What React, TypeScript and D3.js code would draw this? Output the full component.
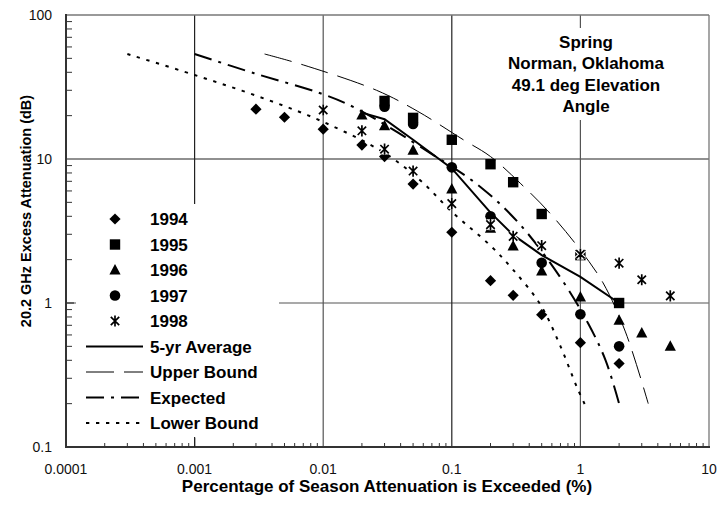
import React from 'react';
import * as d3 from 'd3';

// percent of season exceeded (x) and excess attenuation in dB (y)
const pct1994 = [0.003, 0.005, 0.01, 0.02, 0.03, 0.05, 0.1, 0.2, 0.3, 0.5, 1, 2];
const att1994 = [22.2, 19.5, 16.1, 12.5, 10.4, 6.7, 3.1, 1.43, 1.13, 0.83, 0.53, 0.38];
const pct1995 = [0.03, 0.05, 0.1, 0.2, 0.3, 0.5, 1, 2];
const att1995 = [25.3, 19.3, 13.6, 9.2, 6.9, 4.15, 2.15, 1.0];
const pct1996 = [0.02, 0.03, 0.05, 0.1, 0.2, 0.3, 0.5, 1, 2, 3, 5];
const att1996 = [20.2, 17.0, 11.5, 6.2, 3.3, 2.49, 1.67, 1.1, 0.76, 0.62, 0.5];
const pct1997 = [0.03, 0.05, 0.1, 0.2, 0.5, 1, 2];
const att1997 = [23.1, 17.5, 8.75, 4.0, 1.9, 0.835, 0.5];
const pct1998 = [0.01, 0.02, 0.03, 0.05, 0.1, 0.2, 0.3, 0.5, 1, 2, 3, 5];
const att1998 = [21.9, 15.7, 11.7, 8.25, 4.9, 3.5, 2.9, 2.5, 2.18, 1.89, 1.45, 1.12];

const pctAvg = [0.02, 0.03, 0.05, 0.1, 0.2, 0.3, 0.5, 1, 2];
const attAvg = [21, 18.9, 13.6, 8.6, 4.24, 2.97, 2.15, 1.52, 1.0];
const pctUpper = [0.0035, 0.007, 0.026, 0.054, 0.123, 0.2, 0.34, 0.58, 1, 1.5, 2.24, 3.37];
const attUpper = [53.6, 45, 30, 21.5, 13.6, 10.4, 6.8, 4.2, 2.33, 1.38, 0.63, 0.2];
const pctExp = [0.001, 0.0029, 0.0095, 0.018, 0.068, 0.167, 0.34, 0.7, 1.15, 1.57, 2];
const attExp = [53.6, 39.4, 28.6, 22.5, 11, 6.4, 3.5, 1.5, 0.72, 0.4, 0.2];
const pctLower = [0.0003, 0.001, 0.0032, 0.01, 0.03, 0.057, 0.1, 0.2, 0.3, 0.49, 0.7, 0.94, 1.09];
const attLower = [53.6, 38.3, 27, 18.1, 11, 7.1, 4.3, 2.5, 1.7, 0.97, 0.5, 0.26, 0.195];

const xTickLabels = ['0.0001', '0.001', '0.01', '0.1', '1', '10'];
const yTickLabels = ['0.1', '1', '10', '100'];
const titleLines = ['Spring', 'Norman, Oklahoma', '49.1 deg Elevation', 'Angle'];

type Kind = 'diamond' | 'square' | 'triangle' | 'circle' | 'star';

const years = [
  { name: '1994', kind: 'diamond' as Kind, pct: pct1994, att: att1994 },
  { name: '1995', kind: 'square' as Kind, pct: pct1995, att: att1995 },
  { name: '1996', kind: 'triangle' as Kind, pct: pct1996, att: att1996 },
  { name: '1997', kind: 'circle' as Kind, pct: pct1997, att: att1997 },
  { name: '1998', kind: 'star' as Kind, pct: pct1998, att: att1998 },
];

const curves = [
  { name: '5-yr Average', pct: pctAvg, att: attAvg, width: 2, dash: undefined, smooth: false },
  { name: 'Upper Bound', pct: pctUpper, att: attUpper, width: 1, dash: '28,10', smooth: true },
  { name: 'Expected', pct: pctExp, att: attExp, width: 2, dash: '18,7,3,7', smooth: true },
  { name: 'Lower Bound', pct: pctLower, att: attLower, width: 2, dash: '3.3,6.7', smooth: true },
];

const W = 719;
const H = 508;
const left = 66, right = 709, top = 15, bottom = 447;
const font = '"Liberation Sans", Arial, Helvetica, sans-serif';

const x = d3.scaleLog().domain([1e-4, 10]).range([left, right]);
const y = d3.scaleLog().domain([0.1, 100]).range([bottom, top]);

const Marker = ({ kind, cx, cy }: { kind: Kind; cx: number; cy: number }) => {
  if (kind === 'diamond') {
    const r = 5.6;
    return <path d={`M${cx},${cy - r}L${cx + r},${cy}L${cx},${cy + r}L${cx - r},${cy}Z`} fill="#000" />;
  }
  if (kind === 'square') return <rect x={cx - 5.2} y={cy - 5.2} width={10.4} height={10.4} fill="#000" />;
  if (kind === 'triangle') {
    return <path d={`M${cx},${cy - 6}L${cx + 5.6},${cy + 4.5}L${cx - 5.6},${cy + 4.5}Z`} fill="#000" />;
  }
  if (kind === 'circle') return <circle cx={cx} cy={cy} r={5.3} fill="#000" />;
  const d = `M${cx - 4.2},${cy - 4.2}L${cx + 4.2},${cy + 4.2}M${cx - 4.2},${cy + 4.2}L${cx + 4.2},${cy - 4.2}M${cx},${cy - 5.6}L${cx},${cy + 5.6}`;
  return (
    <g>
      <path d={d} stroke="#fff" strokeWidth={4} />
      <path d={d} stroke="#000" strokeWidth={1.7} />
    </g>
  );
};

export default function App() {
  const xMinor: number[] = [];
  for (let e = -4; e < 1; e++) for (let k = 2; k <= 9; k++) xMinor.push(k * Math.pow(10, e));
  const yMinor: number[] = [];
  for (let e = -1; e < 2; e++) for (let k = 2; k <= 9; k++) yMinor.push(k * Math.pow(10, e));

  const lineOf = (smooth: boolean) =>
    d3.line<[number, number]>()
      .x(d => x(d[0]))
      .y(d => y(d[1]))
      .curve(smooth ? d3.curveCatmullRom.alpha(0.5) : d3.curveLinear);

  const legendRows = [...years.map(s => s.name), ...curves.map(c => c.name)];
  const rowY = (i: number) => 219 + i * 25.5;

  return (
    <svg width={W} height={H} style={{ position: 'absolute', left: 0, top: 0, background: '#fff' }} fontFamily={font}>
      <rect width={W} height={H} fill="#fff" />

      {/* grid */}
      <line x1={left} x2={right} y1={y(10)} y2={y(10)} stroke="#222" strokeWidth={1.2} />
      <line x1={left} x2={right} y1={y(1)} y2={y(1)} stroke="#555" strokeWidth={1.2} />
      {[0.001, 0.01, 0.1, 1].map(v => (
        <line key={v} x1={x(v)} x2={x(v)} y1={top} y2={bottom} stroke={v === 0.01 || v === 1 ? '#555' : '#222'} strokeWidth={1.2} />
      ))}
      <line x1={left} x2={right} y1={top} y2={top} stroke="#777" strokeWidth={1.3} />
      <line x1={right} x2={right} y1={top} y2={bottom} stroke="#777" strokeWidth={1.3} />

      {/* white boxes behind legend and title */}
      <rect x={76} y={204} width={203} height={233} fill="#fff" />
      <rect x={506} y={28} width={160} height={92} fill="#fff" />

      {/* curves */}
      {curves.map(c => (
        <path
          key={c.name}
          d={lineOf(c.smooth)(c.pct.map((p, i) => [p, c.att[i]] as [number, number])) || ''}
          fill="none"
          stroke="#000"
          strokeWidth={c.width}
          strokeDasharray={c.dash}
        />
      ))}

      {/* markers */}
      {years.map(s => (
        <g key={s.name}>
          {s.pct.map((p, i) => <Marker key={i} kind={s.kind} cx={x(p)} cy={y(s.att[i])} />)}
        </g>
      ))}

      {/* axes */}
      <line x1={left} x2={left} y1={top - 1} y2={bottom + 1} stroke="#333" strokeWidth={2} />
      <line x1={left - 1} x2={right + 1} y1={bottom} y2={bottom} stroke="#333" strokeWidth={2} />
      {xMinor.map(v => (
        <line key={v} x1={x(v)} x2={x(v)} y1={bottom} y2={bottom - 4} stroke="#333" strokeWidth={1} />
      ))}
      <line x1={x(0.001)} x2={x(0.001)} y1={bottom} y2={bottom - 9} stroke="#222" strokeWidth={1.2} />
      {yMinor.map(v => (
        <line key={v} x1={left} x2={left + 6} y1={y(v)} y2={y(v)} stroke="#333" strokeWidth={1} />
      ))}
      <line x1={left} x2={left + 8} y1={y(1)} y2={y(1)} stroke="#333" strokeWidth={1.2} />

      {xTickLabels.map(t => (
        <text key={t} x={x(+t)} y={474} textAnchor="middle" fontSize={14} fill="#111">{t}</text>
      ))}
      {yTickLabels.map(t => (
        <text key={t} x={52} y={y(+t) + 5} textAnchor="end" fontSize={14} fill="#111">{t}</text>
      ))}

      <text x={387} y={492} textAnchor="middle" fontSize={17} fontWeight="bold">
        Percentage of Season Attenuation is Exceeded (%)
      </text>
      <text transform={`translate(31,211) rotate(-90)`} textAnchor="middle" fontSize={14.5} fontWeight="bold">
        20.2 GHz Excess Attenuation (dB)
      </text>

      {titleLines.map((t, i) => (
        <text key={t} x={586} y={48 + i * 21.3} textAnchor="middle" fontSize={17} fontWeight="bold">{t}</text>
      ))}

      {/* legend */}
      {legendRows.map((name, i) => {
        const ry = rowY(i);
        const yr = years.find(s => s.name === name);
        const cv = curves.find(c => c.name === name);
        return (
          <g key={name}>
            {yr && <Marker kind={yr.kind} cx={115} cy={ry} />}
            {cv && (
              <line x1={86} x2={143} y1={ry} y2={ry} stroke="#000" strokeWidth={cv.width} strokeDasharray={cv.dash} />
            )}
            <text x={150} y={ry + 6} fontSize={17} fontWeight="bold">{name}</text>
          </g>
        );
      })}
    </svg>
  );
}
